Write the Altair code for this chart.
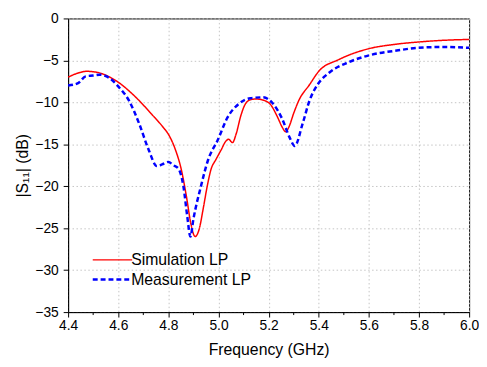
import altair as alt
import pandas as pd

series_names = ["Simulation LP", "Measurement LP"]

sim_freq = [4.40, 4.44, 4.475, 4.52, 4.56, 4.60, 4.667, 4.733, 4.78, 4.80, 4.83, 4.85, 4.872,
            4.89, 4.907, 4.923, 4.94, 4.955, 4.97, 4.99, 5.01, 5.03, 5.04, 5.056, 5.07, 5.09,
            5.107, 5.127, 5.15, 5.174, 5.206, 5.233, 5.255, 5.267, 5.28, 5.30, 5.32, 5.363,
            5.40, 5.48, 5.60, 5.70, 5.80, 5.90, 6.00]
sim_db = [-7.0, -6.5, -6.3, -6.45, -6.9, -7.6, -9.3, -11.4, -13.0, -13.8, -15.8, -17.8, -21.2,
          -24.5, -26.0, -25.1, -22.5, -20.0, -18.0, -16.8, -15.7, -14.6, -14.4, -14.8, -13.8, -11.5,
          -10.2, -9.7, -9.6, -9.7, -10.2, -11.6, -13.0, -13.5, -13.0, -11.3, -9.8, -7.9,
          -6.3, -4.9, -3.6, -3.1, -2.8, -2.6, -2.5]

meas_freq = [4.40, 4.44, 4.47, 4.50, 4.525, 4.565, 4.60, 4.643, 4.683, 4.722, 4.754, 4.775,
             4.80, 4.82, 4.84, 4.86, 4.875, 4.888, 4.90, 4.93, 4.958, 4.997, 5.036, 5.08,
             5.127, 5.178, 5.213, 5.253, 5.284, 5.304, 5.336, 5.363, 5.395, 5.44, 5.52,
             5.60, 5.717, 5.795, 5.90, 6.00]
meas_db = [-8.0, -7.7, -6.9, -6.8, -6.7, -7.1, -8.1, -9.8, -12.5, -15.7, -17.6, -17.4,
           -17.1, -17.5, -17.9, -20.0, -23.5, -26.0, -23.9, -20.0, -16.9, -14.5, -11.8, -10.2,
           -9.5, -9.4, -10.0, -11.9, -14.2, -15.2, -12.5, -9.8, -7.9, -6.5, -5.2,
           -4.4, -3.8, -3.5, -3.4, -3.5]

x_major = [4.4, 4.6, 4.8, 5.0, 5.2, 5.4, 5.6, 5.8, 6.0]
x_minor = [4.5, 4.7, 4.9, 5.1, 5.3, 5.5, 5.7, 5.9]
y_ticks = [0, -5, -10, -15, -20, -25, -30, -35]

W, H = 407, 298
FONT = "Liberation Sans"

df = pd.concat([
    pd.DataFrame({"freq": sim_freq, "db": sim_db, "series": series_names[0]}),
    pd.DataFrame({"freq": meas_freq, "db": meas_db, "series": series_names[1]}),
])

xscale = alt.Scale(domain=[4.4, 6.0], nice=False, zero=False)
yscale = alt.Scale(domain=[-35, 0], nice=False, zero=False)

leg = alt.Legend(title=None, orient="none", legendX=37, legendY=237)

lines = alt.Chart(df).mark_line(interpolate="monotone").encode(
    x=alt.X("freq:Q", scale=xscale, title="Frequency (GHz)",
            axis=alt.Axis(values=x_major, format=".1f", labelFlush=False)),
    y=alt.Y("db:Q", scale=yscale, title="|S₁₁| (dB)",
            axis=alt.Axis(values=y_ticks, format="d", labelFlush=False)),
    color=alt.Color("series:N", scale=alt.Scale(domain=series_names, range=["#ff0000", "#0000ff"]),
                    legend=leg),
    strokeDash=alt.StrokeDash("series:N", scale=alt.Scale(domain=series_names, range=[[1, 0], [5, 3]]),
                              legend=leg),
    strokeWidth=alt.StrokeWidth("series:N", scale=alt.Scale(domain=series_names, range=[1.5, 2.5]),
                                legend=leg),
    order=alt.Order("series:N", sort="descending"),
)

minor = alt.Chart(pd.DataFrame({"freq": x_minor})).mark_rule(color="black", strokeWidth=1).encode(
    x=alt.X("freq:Q", scale=xscale),
    y=alt.value(H),
    y2=alt.value(H + 3),
)

chart = alt.layer(lines, minor).properties(
    width=W, height=H, padding={"left": 7, "top": 1, "right": 0, "bottom": 0}
).configure_view(
    stroke="black", strokeWidth=1
).configure_axis(
    labelFont=FONT, titleFont=FONT, labelFontSize=14, titleFontSize=16,
    labelColor="black", titleColor="black", titleFontWeight="normal",
    domainColor="black", tickColor="black", tickSize=5, labelPadding=2,
    grid=True, gridColor="#c4c4c4", gridDash=[1.5, 2.5], gridWidth=1,
).configure_axisX(
    titlePadding=9
).configure_axisY(
    titlePadding=4, labelPadding=5
).configure_legend(
    labelFont=FONT, labelFontSize=16, labelColor="black",
    symbolType="M-4,0H4", symbolSize=100, labelOffset=11, rowPadding=4, padding=0,
)

chart.save("out.html", embed_options={"renderer": "svg", "actions": False})
